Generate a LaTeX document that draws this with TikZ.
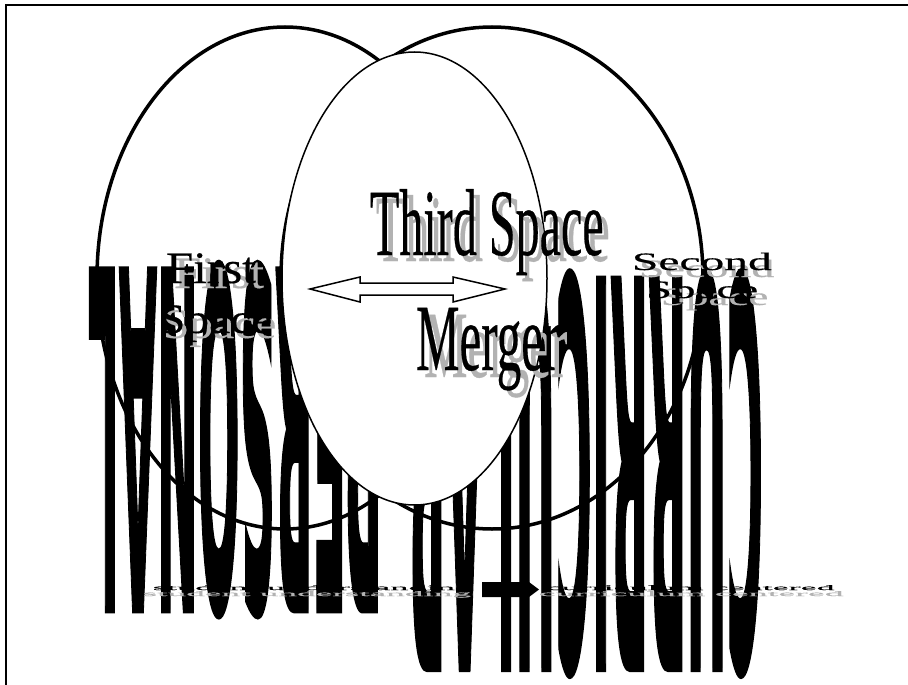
\documentclass[tikz,border=0pt]{standalone}
\usepackage{fontspec}
\setmainfont{Liberation Serif}[FakeBold=0.4,AutoFakeBold=false]
\newfontfamily\bigfont{DejaVu Sans Bold}[FakeBold=1.6]
\begin{document}
\begin{tikzpicture}[
  x=1pt, y=-1pt,
  font=\fontsize{10}{12}\selectfont,
  bigword/.style={font=\fontsize{10}{12}\selectfont\bigfont, inner sep=0pt, anchor=base west, rotate=180},
  word/.style={inner sep=0pt, anchor=base west},
  shadow/.style={word, text=black!30},
  space/.style={draw=black, line width=3.5pt},
]
\useasboundingbox (0,0) rectangle (908,685);
\draw[line width=2pt] (6,686) -- (6,5) -- (909,5);
% ---- the two outer spaces ----
\draw[space] (285,278) ellipse [x radius=188, y radius=251];
\draw[space] (492,278) ellipse [x radius=211, y radius=251];
% ---- big words, upside down ----
\node[bigword, xscale=4.9, yscale=46.6] (personal) at (383,270) {PERSONAL};
\node[bigword, xscale=4.95, yscale=53.2] (curricular) at (764,280) {CURRICULAR};
% ---- third space over them ----
\draw[fill=white, line width=1.5pt] (414.5,278.5) ellipse [x radius=132.5, y radius=226.5];
\draw[fill=white, line width=1.5pt] (310,289) -- (360,277) -- (360,283) -- (453,283) -- (453,277)
  -- (505,289) -- (453,302) -- (453,295) -- (360,295) -- (360,302) -- cycle;
% ---- labels with their shadows ----
\node[shadow, xscale=4.81, yscale=9.5] (thirdg) at (375,261) {Third Space};
\node[word, xscale=4.81, yscale=9.5] (third) at (369,255) {Third Space};
\node[shadow, xscale=4.9, yscale=9.5] (mergerg) at (423,377) {Merger};
\node[word, xscale=4.9, yscale=9.5] (merger) at (415,370) {Merger};
\node[shadow, xscale=4.9, yscale=4.5] (firstg) at (173,288) {First};
\node[word, xscale=4.9, yscale=4.5] (first) at (165,283) {First};
\node[shadow, xscale=4.75, yscale=4.2] (spaceag) at (162,338) {Space};
\node[word, xscale=4.75, yscale=4.2] (spacea) at (158,333) {Space};
\node[shadow, xscale=4.6, yscale=2.5] (secondg) at (638,277) {Second};
\node[word, xscale=4.75, yscale=2.5] (second) at (631,270) {Second};
\node[shadow, xscale=4.5, yscale=2.5] (spacebg) at (660,305) {Space};
\node[word, xscale=4.7, yscale=2.5] (spaceb) at (645,298) {Space};
% ---- bottom line ----
\node[shadow, xscale=3.73, yscale=.7] (studentg) at (142,596) {student understanding};
\node[word, xscale=3.64, yscale=.7] (student) at (152,590) {student understanding};
\node[shadow, xscale=3.8, yscale=.7] (centerg) at (538,596) {curriculum centered};
\node[word, xscale=3.6, yscale=.7] (center) at (545,590) {curriculum centered};
\fill (482,582) -- (529,582) -- (539,589.5) -- (529,597) -- (482,597) -- cycle;
\end{tikzpicture}
\end{document}
